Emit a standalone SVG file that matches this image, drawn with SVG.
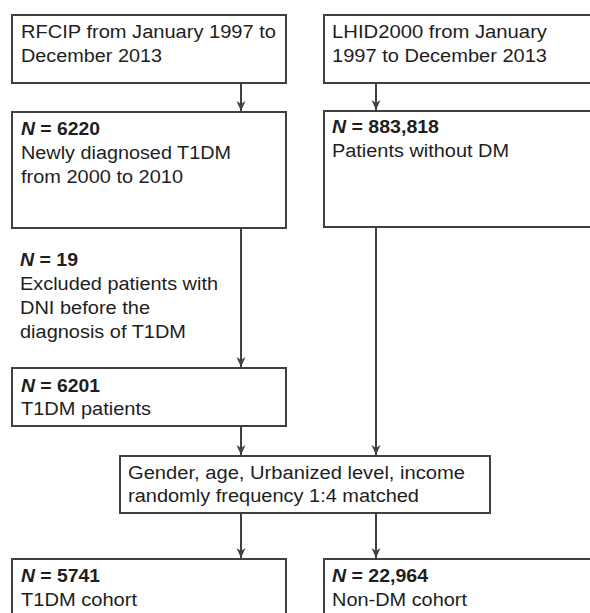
<svg xmlns="http://www.w3.org/2000/svg" width="590" height="613" viewBox="0 0 590 613">
<defs>
<style>
.box{fill:#fff;stroke:#404040;stroke-width:2}
.con{stroke:#404040;stroke-width:2;fill:none;marker-end:url(#ah)}
text{font-family:"Liberation Sans",Arial,sans-serif;font-size:18px;fill:#1e1e1e}
.b{font-weight:bold}
.i{font-style:italic}
</style>
<marker id="ah" viewBox="-10 -6 11 12" refX="0" refY="0" markerWidth="11" markerHeight="12" markerUnits="userSpaceOnUse" orient="auto">
<path d="M0,0 L-10,-4.5 L-7,0 L-10,4.5 Z" fill="#404040"/>
</marker>
</defs>
<rect width="590" height="613" fill="#fff"/>
<g id="connectors">
<line class="con" x1="241" y1="84" x2="241" y2="111"/>
<line class="con" x1="376" y1="84" x2="376" y2="110"/>
<line class="con" x1="241" y1="229" x2="241" y2="367"/>
<line class="con" x1="376" y1="228" x2="376" y2="455"/>
<line class="con" x1="241" y1="427" x2="241" y2="455"/>
<line class="con" x1="241" y1="514" x2="241" y2="558"/>
<line class="con" x1="376" y1="514" x2="376" y2="558"/>
</g>
<g id="rfcip">
<rect class="box" x="12" y="15" width="274" height="68"/>
<text x="21" y="38" textLength="255" lengthAdjust="spacingAndGlyphs">RFCIP from January 1997 to</text>
<text x="21" y="62" textLength="141" lengthAdjust="spacingAndGlyphs">December 2013</text>
</g>
<g id="lhid">
<rect class="box" x="324" y="15" width="300" height="68"/>
<text x="332" y="38" textLength="215" lengthAdjust="spacingAndGlyphs">LHID2000 from January</text>
<text x="332" y="62" textLength="215" lengthAdjust="spacingAndGlyphs">1997 to December 2013</text>
</g>
<g id="t1dm-new">
<rect class="box" x="12" y="112" width="274" height="116"/>
<text x="21" y="135" class="b" textLength="79" lengthAdjust="spacingAndGlyphs"><tspan class="i">N</tspan> = 6220</text>
<text x="21" y="159" textLength="210" lengthAdjust="spacingAndGlyphs">Newly diagnosed T1DM</text>
<text x="21" y="183" textLength="162" lengthAdjust="spacingAndGlyphs">from 2000 to 2010</text>
</g>
<g id="nondm-pool">
<rect class="box" x="324" y="111" width="300" height="116"/>
<text x="332" y="133" class="b" textLength="107" lengthAdjust="spacingAndGlyphs"><tspan class="i">N</tspan> = 883,818</text>
<text x="332" y="157" textLength="177" lengthAdjust="spacingAndGlyphs">Patients without DM</text>
</g>
<g id="excluded">
<text x="20" y="266" class="b" textLength="58" lengthAdjust="spacingAndGlyphs"><tspan class="i">N</tspan> = 19</text>
<text x="20" y="290" textLength="198" lengthAdjust="spacingAndGlyphs">Excluded patients with</text>
<text x="20" y="314" textLength="130" lengthAdjust="spacingAndGlyphs">DNI before the</text>
<text x="20" y="338" textLength="166" lengthAdjust="spacingAndGlyphs">diagnosis of T1DM</text>
</g>
<g id="t1dm-patients">
<rect class="box" x="12" y="368" width="274" height="58"/>
<text x="21" y="392" class="b" textLength="79" lengthAdjust="spacingAndGlyphs"><tspan class="i">N</tspan> = 6201</text>
<text x="21" y="415" textLength="130" lengthAdjust="spacingAndGlyphs">T1DM patients</text>
</g>
<g id="matching">
<rect class="box" x="120" y="456" width="370" height="57"/>
<text x="128" y="479" textLength="337" lengthAdjust="spacingAndGlyphs">Gender, age, Urbanized level, income</text>
<text x="128" y="502" textLength="291" lengthAdjust="spacingAndGlyphs">randomly frequency 1:4 matched</text>
</g>
<g id="t1dm-cohort">
<rect class="box" x="12" y="559" width="274" height="80"/>
<text x="21" y="582" class="b" textLength="79" lengthAdjust="spacingAndGlyphs"><tspan class="i">N</tspan> = 5741</text>
<text x="21" y="606" textLength="116" lengthAdjust="spacingAndGlyphs">T1DM cohort</text>
</g>
<g id="nondm-cohort">
<rect class="box" x="324" y="559" width="300" height="80"/>
<text x="332" y="582" class="b" textLength="96" lengthAdjust="spacingAndGlyphs"><tspan class="i">N</tspan> = 22,964</text>
<text x="332" y="606" textLength="135" lengthAdjust="spacingAndGlyphs">Non-DM cohort</text>
</g>
</svg>
